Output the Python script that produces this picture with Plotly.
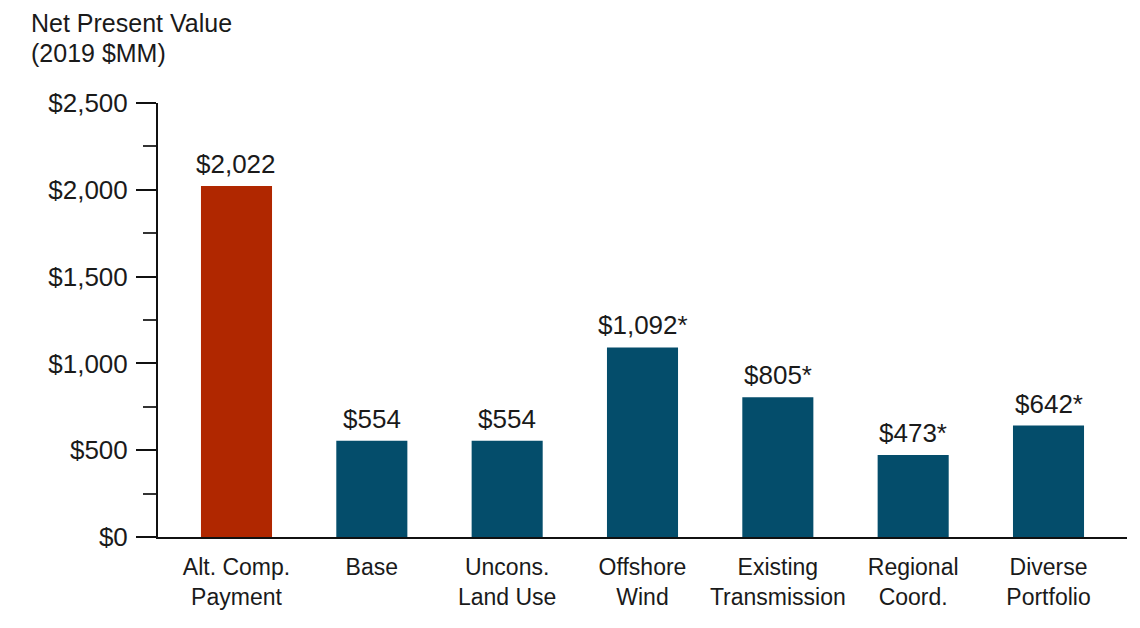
import plotly.graph_objects as go

categories = ["Alt. Comp.<br>Payment", "Base", "Uncons.<br>Land Use", "Offshore<br>Wind",
              "Existing<br>Transmission", "Regional<br>Coord.", "Diverse<br>Portfolio"]
values = [2022, 554, 554, 1092, 805, 473, 642]
value_labels = ["$2,022", "$554", "$554", "$1,092*", "$805*", "$473*", "$642*"]
bar_colors = ["#B02700", "#044D6B", "#044D6B", "#044D6B", "#044D6B", "#044D6B", "#044D6B"]
ytick_vals = [0, 500, 1000, 1500, 2000, 2500]
ytick_text = ["$0", "$500", "$1,000", "$1,500", "$2,000", "$2,500"]
y_title_lines = ["Net Present Value", "(2019 $MM)"]

FONT = "Liberation Sans, Arial, sans-serif"
TXT = "#1a1a1a"
xs = list(range(len(categories)))

fig = go.Figure()
fig.add_trace(go.Bar(
    x=xs,
    y=values,
    marker=dict(color=bar_colors, line=dict(width=0)),
    width=0.525,
    hoverinfo="skip",
))

W, H = 1132, 620
L, R, T, B = 150, 13, 95, 91
PW, PH = W - L - R, H - T - B

annotations = []
for xi, v, lab in zip(xs, values, value_labels):
    annotations.append(dict(
        x=xi, y=v, xref="x", yref="y", text=lab, showarrow=False,
        xanchor="center", yanchor="bottom", yshift=5,
        font=dict(family=FONT, size=26, color=TXT),
    ))
for i, line in enumerate(y_title_lines):
    annotations.append(dict(
        text=line, xref="paper", yref="paper",
        x=(22 - L) / PW, y=1 + (T - 30 * i) / PH,
        xanchor="left", yanchor="top", align="left", showarrow=False,
        borderpad=0,
        font=dict(family=FONT, size=25, color=TXT),
    ))

fig.update_layout(
    width=W, height=H,
    margin=dict(l=L, r=R, t=T, b=B, autoexpand=False),
    paper_bgcolor="white", plot_bgcolor="white",
    showlegend=False,
    font=dict(family=FONT, size=23, color=TXT),
    xaxis=dict(
        range=[-0.58, 6.58],
        tickmode="array",
        tickvals=xs,
        ticktext=categories,
        showline=True, linecolor="#111111", linewidth=2,
        ticks="", showgrid=False, zeroline=False,
        automargin=False,
        ticklabelstandoff=8,
        tickfont=dict(family=FONT, size=23, color=TXT),
    ),
    yaxis=dict(
        range=[0, 2500],
        tickmode="array",
        tickvals=ytick_vals,
        ticktext=ytick_text,
        showline=True, linecolor="#111111", linewidth=2,
        ticks="outside", ticklen=20, tickwidth=2, tickcolor="#111111",
        minor=dict(ticks="outside", ticklen=13, tickwidth=1.5, tickcolor="#333333", dtick=250, showgrid=False),
        showgrid=False, zeroline=False,
        automargin=False,
        ticklabelstandoff=3,
        tickfont=dict(family=FONT, size=26, color=TXT),
    ),
    annotations=annotations,
)

fig.write_html("out.html")
